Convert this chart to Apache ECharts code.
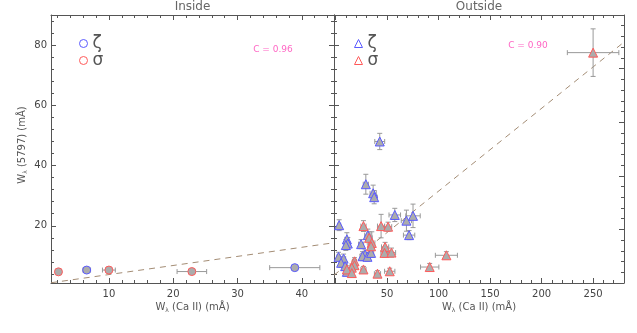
<!DOCTYPE html>
<html>
<head>
<meta charset="utf-8">
<script src="https://cdn.jsdelivr.net/npm/echarts@6/dist/echarts.min.js"></script>
<style>
  html, body { margin: 0; padding: 0; background: #fff; }
  #chart { width: 637px; height: 333px; }
</style>
</head>
<body>
<div id="chart"></div>
<script>
// rows: [W(Ca II), W(5797), xerr, yerr]
const insideZeta = [[6.55, 5.3, 0.6, 0.3], [38.9, 6.1, 3.9, 0.5]]
const insideSigma = [[2.16, 4.7, 0.2, 0.3], [10.0, 5.3, 1.0, 0.5], [22.9, 4.8, 2.3, 0.5]]
const outsideZeta = [
  [3.5, 20.2, 1.5, 1.8], [11.0, 15.5, 2, 2.2], [11.9, 14.1, 2, 2], [10.0, 13.6, 2, 1.8],
  [24.8, 13.9, 2.5, 1.5], [31.3, 16.9, 3, 2], [28.7, 10.5, 2.5, 1.5], [26.2, 9.9, 2.5, 1.5],
  [31.0, 9.7, 2.5, 1.5], [34.5, 11.0, 2.5, 1.5], [2.9, 9.7, 1.5, 1.5], [7.8, 9.1, 2, 1.5],
  [5.4, 7.7, 2, 1.5], [9.3, 6.6, 2, 1.5], [11.0, 4.7, 2, 1.2], [42.9, 48.0, 4.8, 2.7],
  [29.4, 33.8, 2.5, 3.3], [36.5, 30.8, 3, 2.7], [37.5, 29.5, 3, 2.2], [57.5, 23.6, 5.6, 2.2],
  [68.8, 21.7, 5, 3.5], [75.2, 23.3, 7, 3.9], [71.4, 16.9, 5.5, 1.5]
]
const outsideSigma = [
  [27.1, 19.9, 2.5, 1.8], [44.2, 19.9, 3.5, 3.9], [51.0, 19.7, 3.5, 1.5], [32.6, 16.0, 3, 2],
  [35.2, 14.3, 3, 3.7], [34.5, 13.2, 3, 2], [48.1, 13.0, 3.5, 1.5], [47.5, 11.0, 3.5, 1.5],
  [54.3, 11.1, 4, 1.5], [18.4, 8.2, 2, 1.2], [18.4, 6.9, 2, 1.2], [15.8, 6.1, 2, 1.2],
  [11.0, 5.5, 2, 1.2], [15.8, 4.3, 2, 1.2], [27.1, 5.5, 2.5, 1], [40.7, 4.1, 3, 1],
  [52.6, 4.9, 5, 1], [91.4, 6.3, 8.9, 1.2], [107.6, 10.2, 10.7, 1.2], [250, 77.5, 25, 7.9]
]

// dashed fits (end points)
const insideFitX = [1, 45]
const insideFitY = [1.08, 14.37]
const outsideFitX = [-1.5, 280]
const outsideFitY = [3.6, 81.0]

// axis ranges, tick steps, labels
const yRange = [1, 90]
const inXRange = [1, 45]
const outXRange = [-1.5, 280]
const rightRange = [0, 5]
const yStep = [20, 4]        // major, minor
const inXStep = [10, 2]
const outXStep = [50, 10]
const rightStep = [1, 0.2]
const yLabels = [20, 40, 60, 80]
const inXLabels = [10, 20, 30, 40]
const outXLabels = [50, 100, 150, 200, 250]

const AX = '#555'
const BLUE = '#5a5aff'
const RED = '#ff5a5a'
const FONT = 'DejaVu Sans'

const chart = echarts.init(document.getElementById('chart'))

// tick-carrying axis; step given through min/maxInterval so ticks sit on multiples
function axis(gridIndex, position, range, step, len, opts = {}) {
  return {
    type: 'value', gridIndex, position, min: range[0], max: range[1],
    minInterval: step, maxInterval: step,
    axisLine: { show: !!opts.line, onZero: false, lineStyle: { color: AX, width: 1 } },
    axisTick: { show: true, inside: true, length: len, lineStyle: { color: AX, width: 1 } },
    minorTick: { show: false },
    axisLabel: opts.labels
      ? { show: true, customValues: opts.labels, color: '#444', fontFamily: FONT, fontSize: 10,
          margin: opts.margin || 6 }
      : { show: false },
    splitLine: { show: false }
  }
}

// 4 x axes per grid: bottom major, bottom minor, top major, top minor
const xAxes = [
  axis(0, 'bottom', inXRange, inXStep[0], 5, { line: true, labels: inXLabels, margin: 6 }),
  axis(0, 'bottom', inXRange, inXStep[1], 3),
  axis(0, 'top', inXRange, inXStep[0], 5, { line: true }),
  axis(0, 'top', inXRange, inXStep[1], 3),
  axis(1, 'bottom', outXRange, outXStep[0], 5, { line: true, labels: outXLabels, margin: 6 }),
  axis(1, 'bottom', outXRange, outXStep[1], 3),
  axis(1, 'top', outXRange, outXStep[0], 5, { line: true }),
  axis(1, 'top', outXRange, outXStep[1], 3)
]
const yAxes = [
  axis(0, 'left', yRange, yStep[0], 5, { line: true, labels: yLabels, margin: 4 }),
  axis(0, 'left', yRange, yStep[1], 3),
  axis(0, 'right', yRange, yStep[0], 5, { line: true }),
  axis(0, 'right', yRange, yStep[1], 3),
  axis(1, 'left', yRange, yStep[0], 5, { line: true }),
  axis(1, 'left', yRange, yStep[1], 3),
  axis(1, 'right', rightRange, rightStep[0], 5, { line: true }),
  axis(1, 'right', rightRange, rightStep[1], 3)
]

function errorBars(rows, ai) {
  return {
    type: 'custom', xAxisIndex: ai, yAxisIndex: ai, z: 2, clip: true, silent: true,
    data: rows,
    encode: { x: 0, y: 1 },
    renderItem(params, api) {
      const x = api.value(0), y = api.value(1), xe = api.value(2), ye = api.value(3)
      const c = api.coord([x, y])
      const l = api.coord([x - xe, y])[0], r = api.coord([x + xe, y])[0]
      const t = api.coord([x, y + ye])[1], b = api.coord([x, y - ye])[1]
      const cap = 2.5
      const style = { stroke: '#999', lineWidth: 1, fill: null }
      const ln = (x1, y1, x2, y2) => ({ type: 'line', shape: { x1, y1, x2, y2 }, style })
      return {
        type: 'group',
        children: [
          ln(l, c[1], r, c[1]), ln(l, c[1] - cap, l, c[1] + cap), ln(r, c[1] - cap, r, c[1] + cap),
          ln(c[0], t, c[0], b), ln(c[0] - cap, t, c[0] + cap, t), ln(c[0] - cap, b, c[0] + cap, b)
        ]
      }
    }
  }
}

function points(name, rows, ai, symbol, color, size) {
  return {
    name, type: 'scatter', xAxisIndex: ai, yAxisIndex: ai, z: 3,
    symbol, symbolSize: size,
    data: rows.map(r => [r[0], r[1]]),
    itemStyle: { color: '#acacac', borderColor: color, borderWidth: 1, opacity: 1 }
  }
}

function fit(xs, ys, ai) {
  return {
    type: 'line', xAxisIndex: ai, yAxisIndex: ai, z: 1, symbol: 'none', silent: true,
    data: xs.map((x, i) => [x, ys[i]]),
    lineStyle: { color: '#a38c74', width: 1, type: [6, 5] }
  }
}

function legend(left, names, icon) {
  return {
    orient: 'vertical', left, top: 30, itemWidth: 8, itemHeight: 8, itemGap: 0,
    icon,
    formatter: n => n.trim(),
    textStyle: { fontFamily: FONT, fontSize: 17, color: '#555', lineHeight: 17 },
    selectedMode: false,
    data: [
      { name: names[0], itemStyle: { color: 'rgba(0,0,0,0)', borderColor: BLUE, borderWidth: 1 } },
      { name: names[1], itemStyle: { color: 'rgba(0,0,0,0)', borderColor: RED, borderWidth: 1 } }
    ]
  }
}

const textStyle = (text, size, color) => ({ text, fontFamily: FONT, fontSize: size, fill: color })
const axisName = (text, x, y, rotation) => ({
  type: 'text', x, y, rotation,
  style: {
    text, fontFamily: FONT, fontSize: 10, fill: '#555',
    textAlign: 'center', textVerticalAlign: 'middle',
    rich: { s: { fontSize: 6, fontFamily: FONT, fill: '#555', padding: [6, 0, 0, 0] } }
  }
})

chart.setOption({
  animation: false,
  grid: [
    { left: 51, top: 15, width: 283, height: 268 },
    { left: 334, top: 15, width: 290, height: 268 }
  ],
  xAxis: xAxes,
  yAxis: yAxes,
  legend: [legend(74, ['ζ', 'σ'], 'circle'), legend(349, ['ζ ', 'σ '], 'triangle')],
  series: [
    fit(insideFitX, insideFitY, 0),
    errorBars(insideZeta, 0), errorBars(insideSigma, 0),
    points('ζ', insideZeta, 0, 'circle', BLUE, 8),
    points('σ', insideSigma, 0, 'circle', RED, 8),
    fit(outsideFitX, outsideFitY, 4),
    errorBars(outsideZeta, 4), errorBars(outsideSigma, 4),
    points('ζ ', outsideZeta, 4, 'triangle', BLUE, 9),
    points('σ ', outsideSigma, 4, 'triangle', RED, 9)
  ],
  graphic: [
    { type: 'text', x: 192.5, y: 7, style: { ...textStyle('Inside', 12, '#666'), textAlign: 'center', textVerticalAlign: 'middle' } },
    { type: 'text', x: 479, y: 7, style: { ...textStyle('Outside', 12, '#666'), textAlign: 'center', textVerticalAlign: 'middle' } },
    { type: 'text', x: 273, y: 50, style: { ...textStyle('C = 0.96', 9, '#ff66c4'), textAlign: 'center', textVerticalAlign: 'middle' } },
    { type: 'text', x: 528, y: 46, style: { ...textStyle('C = 0.90', 9, '#ff66c4'), textAlign: 'center', textVerticalAlign: 'middle' } },
    axisName('W{s|λ} (Ca II) (mÅ)', 192.5, 307, 0),
    axisName('W{s|λ} (Ca II) (mÅ)', 479, 307, 0),
    axisName('W{s|λ} (5797) (mÅ)', 22, 145, Math.PI / 2)
  ]
})
</script>
</body>
</html>
